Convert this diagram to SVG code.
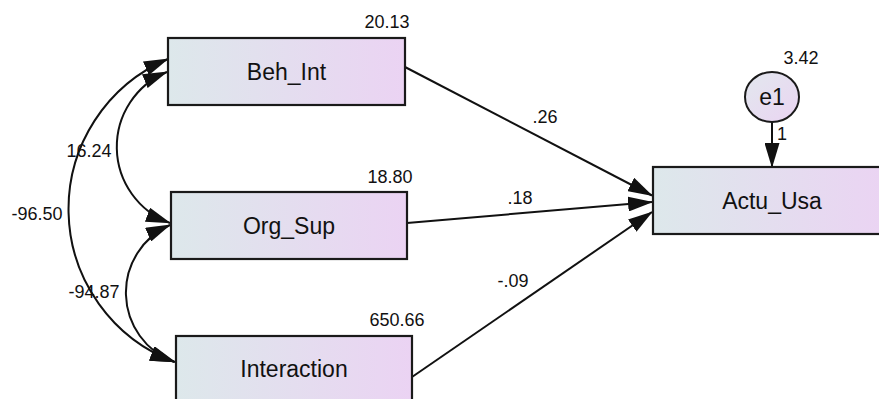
<svg xmlns="http://www.w3.org/2000/svg" width="879" height="399" viewBox="0 0 879 399">
  <style>
    .box { stroke: #1a1a1a; stroke-width: 2.2; fill: url(#g); }
    .lbl { font-family: "Liberation Sans", Arial, sans-serif; font-size: 23px; fill: #111; text-anchor: middle; }
    .num { font-family: "Liberation Sans", Arial, sans-serif; font-size: 18px; fill: #111; text-anchor: middle; }
    .edge { stroke: #111; stroke-width: 2; fill: none; }
    .path { marker-end: url(#ah); }
    .cov { marker-start: url(#ah); marker-end: url(#ah); }
  </style>
  <defs>
    <linearGradient id="g" x1="0" y1="0" x2="1" y2="0">
      <stop offset="0" stop-color="#dde8eb"/>
      <stop offset="1" stop-color="#ebd3f3"/>
    </linearGradient>
    <linearGradient id="ge" x1="0" y1="0" x2="1" y2="1">
      <stop offset="0" stop-color="#e2e8ee"/>
      <stop offset="1" stop-color="#ead4f2"/>
    </linearGradient>
    <marker id="ah" markerUnits="userSpaceOnUse" markerWidth="25" markerHeight="15" refX="24" refY="7.5" orient="auto-start-reverse" viewBox="0 0 25 15">
      <path d="M0,0 L25,7.5 L0,15 z" fill="#111"/>
    </marker>
  </defs>
  <rect width="879" height="399" fill="#fff"/>

  <g id="connectors">
    <path class="edge path" d="M405,67 L652,195.5"/>
    <path class="edge path" d="M407,223 L652,202"/>
    <path class="edge path" d="M412,377 L652,212"/>
    <path class="edge path" d="M772,122 L772,167"/>
    <path class="edge cov" d="M168,59 A163,163 0 0 0 175,362"/>
    <path class="edge cov" d="M167,72 A81,81 0 0 0 170,223"/>
    <path class="edge cov" d="M170,225 A74,74 0 0 0 174,362"/>
    <text class="num" x="545" y="123">.26</text>
    <text class="num" x="520" y="204">.18</text>
    <text class="num" x="513" y="287">-.09</text>
    <text class="num" x="782" y="140">1</text>
    <text class="num" x="89" y="157">16.24</text>
    <text class="num" x="37" y="220">-96.50</text>
    <text class="num" x="94" y="298">-94.87</text>
  </g>

  <g id="Beh_Int">
    <rect class="box" x="168" y="38" width="237" height="67"/>
    <text class="lbl" x="286.5" y="79.5">Beh_Int</text>
    <text class="num" x="387" y="28">20.13</text>
  </g>
  <g id="Org_Sup">
    <rect class="box" x="171" y="192" width="236" height="67"/>
    <text class="lbl" x="289" y="233.5">Org_Sup</text>
    <text class="num" x="390" y="183">18.80</text>
  </g>
  <g id="Interaction">
    <rect class="box" x="176" y="336" width="236" height="67"/>
    <text class="lbl" x="294" y="377">Interaction</text>
    <text class="num" x="397" y="326">650.66</text>
  </g>
  <g id="Actu_Usa">
    <rect class="box" x="653" y="167" width="238" height="67"/>
    <text class="lbl" x="772" y="209">Actu_Usa</text>
  </g>
  <g id="e1">
    <ellipse cx="772" cy="97" rx="27" ry="25" fill="url(#ge)" stroke="#1a1a1a" stroke-width="2"/>
    <text class="lbl" x="772" y="105">e1</text>
    <text class="num" x="801" y="64">3.42</text>
  </g>
</svg>
